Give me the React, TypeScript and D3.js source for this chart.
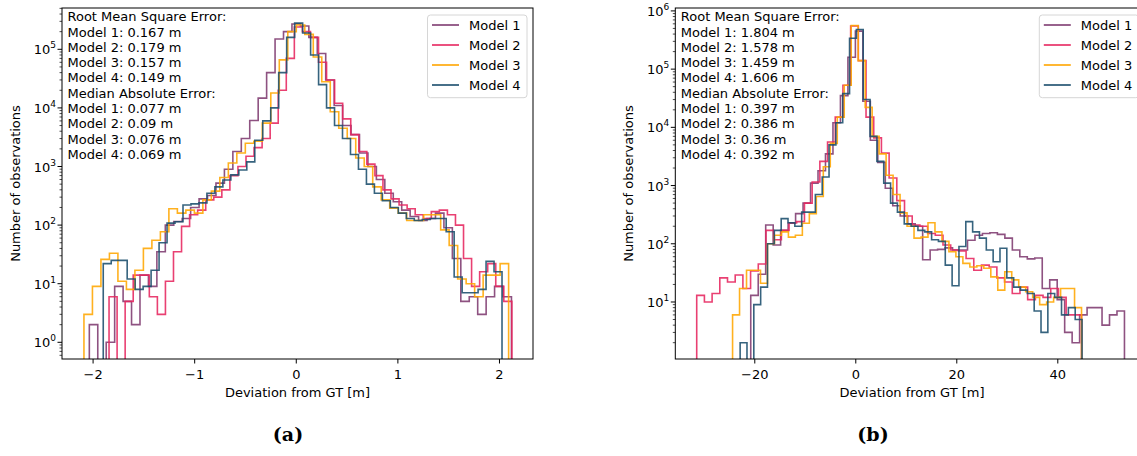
import React from "react";
import * as d3 from "d3";

// ---------- data ----------
const MODELS = ["Model 1", "Model 2", "Model 3", "Model 4"];
const COLORS = ["#7e3a70", "#e6255f", "#ffa600", "#1a4d6c"];

// Panel (a): per-model bin start, bin width and counts (50 bins each)
const A_START = [-2.037, -1.843, -2.09, -1.9];
const A_WIDTH = [0.0831, 0.0793, 0.0836, 0.0785];
const A_M1 = [2, 0, 1, 9, 5, 2, 14, 9, 35, 100, 115, 130, 200, 280, 320, 520, 900, 1800, 3000, 6100, 14700, 40000, 150000, 200000, 270000, 250000, 160000, 85000, 30000, 11000, 5000, 3500, 1700, 1000, 600, 350, 250, 180, 140, 120, 130, 160, 90, 27, 5, 6, 3, 6, 9, 6];
const A_M2 = [6, 0, 5, 14, 14, 6, 3, 11, 35, 95, 150, 180, 270, 300, 400, 700, 1000, 1500, 2100, 3000, 5500, 20000, 70000, 240000, 200000, 160000, 60000, 30000, 12000, 6500, 3500, 1800, 1100, 700, 400, 280, 220, 190, 150, 130, 170, 180, 150, 100, 27, 9, 16, 22, 9, 5];
const A_M3 = [3, 9, 26, 33, 11, 8, 17, 40, 55, 77, 190, 160, 180, 160, 270, 380, 650, 1150, 1700, 2500, 2700, 5500, 18000, 66000, 200000, 260000, 180000, 74000, 28000, 8600, 4500, 3000, 1400, 1000, 450, 270, 195, 160, 120, 120, 150, 150, 83, 45, 12, 10, 6, 14, 14, 22];
const A_M4 = [22, 25, 25, 12, 8, 9, 17, 50, 108, 114, 220, 230, 240, 350, 450, 590, 720, 870, 1200, 2800, 6000, 10000, 40000, 160000, 280000, 190000, 80000, 25000, 10000, 5000, 3000, 1600, 900, 500, 350, 260, 200, 160, 130, 120, 125, 130, 130, 77, 13, 7, 7, 8, 24, 16];

// Panel (b)
const B_START = [-20.8, -31.5, -24.4, -22.9];
const B_WIDTH = [1.48, 1.524, 1.382, 1.354];
const B_M1 = [13, 30, 210, 95, 170, 225, 330, 500, 1100, 1800, 3500, 12000, 35000, 160000, 450000, 28000, 6000, 2500, 900, 450, 300, 220, 200, 53, 78, 80, 85, 78, 78, 115, 140, 150, 155, 145, 125, 78, 60, 55, 57, 17, 24, 11, 3, 2, 6, 8, 8, 4, 6, 7];
const B_M2 = [13, 10, 14, 26, 22, 29, 17, 34, 45, 170, 117, 170, 230, 240, 500, 1150, 2600, 5600, 15000, 53000, 550000, 140000, 15000, 6600, 3600, 1350, 550, 300, 210, 200, 150, 140, 95, 78, 75, 56, 35, 43, 40, 26, 22, 14, 18, 11, 13, 12, 17, 12, 6, 6];
const B_M3 = [6, 17, 35, 35, 21, 100, 140, 160, 130, 140, 225, 330, 650, 2100, 5300, 15000, 53000, 560000, 140000, 22000, 7000, 3500, 1500, 700, 340, 200, 125, 130, 230, 160, 110, 73, 60, 46, 40, 42, 38, 27, 16, 33, 24, 18, 15, 12, 9, 10, 12, 17, 17, 8];
const B_M4 = [2, 0, 9, 18, 100, 170, 270, 230, 200, 350, 350, 700, 1400, 5000, 12000, 38000, 340000, 480000, 30000, 7000, 2600, 1100, 500, 350, 220, 200, 170, 160, 117, 110, 43, 19, 90, 240, 160, 125, 78, 49, 84, 26, 18, 16, 14, 7, 3, 14, 12, 6, 8, 5];

const A_RMSE = [0.167, 0.179, 0.157, 0.149];
const A_MAE = [0.077, 0.09, 0.076, 0.069];
const B_RMSE = [1.804, 1.578, 1.459, 1.606];
const B_MAE = [0.397, 0.386, 0.36, 0.392];

const A_XTICKS = [-2, -1, 0, 1, 2];
const B_XTICKS = [-20, 0, 20, 40];

const FONT = "DejaVu Sans";
const FS = 13;

type Series = { start: number; width: number; counts: number[] };

type PanelProps = {
  id: string;
  left: number;
  right: number;
  top: number;
  bottom: number;
  xDomain: [number, number];
  yLogDomain: [number, number];
  xTicks: number[];
  series: Series[];
  rmse: number[];
  mae: number[];
  yLabelX: number;
  legendX: number;
  caption: string;
  captionX: number;
};

const fmt = (v: number) => (v < 0 ? "\u2212" + Math.abs(v) : String(v));

function Panel(p: PanelProps) {
  const x = d3.scaleLinear().domain(p.xDomain).range([p.left, p.right]);
  const y = d3
    .scaleLog()
    .domain([Math.pow(10, p.yLogDomain[0]), Math.pow(10, p.yLogDomain[1])])
    .range([p.bottom, p.top]);
  const below = p.bottom + 20;
  const yv = (c: number) => (c > 0 ? y(c) : below);

  const line = d3
    .line<[number, number]>()
    .x((d) => d[0])
    .y((d) => d[1]);

  // step outline of each histogram
  const paths = p.series.map((s) => {
    const pts: [number, number][] = [];
    const n = s.counts.length;
    pts.push([x(s.start), below]);
    for (let i = 0; i < n; i++) {
      const e0 = x(s.start + i * s.width);
      const e1 = x(s.start + (i + 1) * s.width);
      pts.push([e0, yv(s.counts[i])]);
      pts.push([e1, yv(s.counts[i])]);
    }
    pts.push([x(s.start + n * s.width), below]);
    return line(pts) as string;
  });

  const majors: number[] = [];
  const minors: number[] = [];
  for (let d = Math.floor(p.yLogDomain[0]); d <= Math.ceil(p.yLogDomain[1]); d++) {
    if (d >= p.yLogDomain[0] && d <= p.yLogDomain[1]) majors.push(d);
    for (let m = 2; m <= 9; m++) {
      const lv = d + Math.log10(m);
      if (lv >= p.yLogDomain[0] && lv <= p.yLogDomain[1]) minors.push(Math.pow(10, lv));
    }
  }

  const statLines = [
    "Root Mean Square Error:",
    ...p.rmse.map((v, i) => `Model ${i + 1}: ${v} m`),
    "Median Absolute Error:",
    ...p.mae.map((v, i) => `Model ${i + 1}: ${v} m`),
  ];

  const midY = (p.top + p.bottom) / 2;
  const midX = (p.left + p.right) / 2;

  return (
    <g>
      <defs>
        <clipPath id={`clip-${p.id}`}>
          <rect x={p.left} y={p.top} width={p.right - p.left} height={p.bottom - p.top} />
        </clipPath>
      </defs>
      <rect x={p.left} y={p.top} width={p.right - p.left} height={p.bottom - p.top} fill="#fff" />
      <g clipPath={`url(#clip-${p.id})`}>
        {paths.map((d, i) => (
          <path key={i} d={d} fill="none" stroke={COLORS[i]} strokeWidth={1.6} strokeOpacity={0.88} strokeLinejoin="miter" />
        ))}
      </g>
      {/* spines */}
      <rect x={p.left} y={p.top} width={p.right - p.left} height={p.bottom - p.top} fill="none" stroke="#000" strokeWidth={1} />
      {/* x ticks */}
      {p.xTicks.map((t) => (
        <g key={t}>
          <line x1={x(t)} x2={x(t)} y1={p.bottom} y2={p.bottom + 4.5} stroke="#000" strokeWidth={1} />
          <text x={x(t)} y={p.bottom + 20} fontSize={FS} fontFamily={FONT} textAnchor="middle" fill="#000">
            {fmt(t)}
          </text>
        </g>
      ))}
      {/* y ticks */}
      {minors.map((v, i) => (
        <line key={i} x1={p.left - 2.5} x2={p.left} y1={y(v)} y2={y(v)} stroke="#000" strokeWidth={0.7} />
      ))}
      {majors.map((d) => (
        <g key={d}>
          <line x1={p.left - 4.5} x2={p.left} y1={y(Math.pow(10, d))} y2={y(Math.pow(10, d))} stroke="#000" strokeWidth={1} />
          <text x={p.left - 6} y={y(Math.pow(10, d)) + 5} fontSize={FS} fontFamily={FONT} textAnchor="end" fill="#000">
            10
            <tspan fontSize={9} dy={-6}>
              {d}
            </tspan>
          </text>
        </g>
      ))}
      {/* axis labels */}
      <text x={midX} y={p.bottom + 37.5} fontSize={FS} fontFamily={FONT} textAnchor="middle" fill="#000">
        Deviation from GT [m]
      </text>
      <text
        transform={`translate(${p.yLabelX},${midY}) rotate(-90)`}
        fontSize={FS}
        fontFamily={FONT}
        textAnchor="middle"
        dominantBaseline="central"
        fill="#000"
      >
        Number of observations
      </text>
      {/* statistics text */}
      <text fontSize={FS} fontFamily={FONT} fill="#000">
        {statLines.map((s, i) => (
          <tspan key={i} x={p.left + 5.5} y={p.top + 13.2 + i * 15.3}>
            {s}
          </tspan>
        ))}
      </text>
      {/* legend */}
      <g>
        <rect x={p.legendX} y={p.top + 7} width={99.5} height={82.7} rx={3} fill="#fff" fillOpacity={0.85} stroke="#d6d6d6" strokeWidth={1} />
        {MODELS.map((m, i) => (
          <g key={m}>
            <line
              x1={p.legendX + 4.5}
              x2={p.legendX + 31.5}
              y1={p.top + 17 + i * 20}
              y2={p.top + 17 + i * 20}
              stroke={COLORS[i]}
              strokeWidth={1.6}
            />
            <text x={p.legendX + 41.5} y={p.top + 21.6 + i * 20} fontSize={FS} fontFamily={FONT} fill="#000">
              {m}
            </text>
          </g>
        ))}
      </g>
      {/* caption */}
      <text x={p.captionX} y={441} fontSize={19} fontWeight="bold" fontFamily="DejaVu Serif" textAnchor="middle" fill="#000">
        {p.caption}
      </text>
    </g>
  );
}

export default function App() {
  const aSeries: Series[] = [A_M1, A_M2, A_M3, A_M4].map((c, i) => ({ start: A_START[i], width: A_WIDTH[i], counts: c }));
  const bSeries: Series[] = [B_M1, B_M2, B_M3, B_M4].map((c, i) => ({ start: B_START[i], width: B_WIDTH[i], counts: c }));
  return (
    <svg
      width={1137}
      height={456}
      viewBox="0 0 1137 456"
      style={{ position: "absolute", left: 0, top: 0, background: "#fff" }}
    >
      <rect width={1137} height={456} fill="#fff" />
      <Panel
        id="a"
        left={62}
        right={533}
        top={8}
        bottom={359}
        xDomain={[-2.306, 2.33]}
        yLogDomain={[-0.285, 5.705]}
        xTicks={A_XTICKS}
        series={aSeries}
        rmse={A_RMSE}
        mae={A_MAE}
        yLabelX={15}
        legendX={427.5}
        caption="(a)"
        captionX={288}
      />
      <Panel
        id="b"
        left={675.3}
        right={1148.7}
        top={8}
        bottom={359}
        xDomain={[-35.74, 58.0]}
        yLogDomain={[0.0206, 6.05]}
        xTicks={B_XTICKS}
        series={bSeries}
        rmse={B_RMSE}
        mae={B_MAE}
        yLabelX={628}
        legendX={1039.3}
        caption="(b)"
        captionX={873}
      />
    </svg>
  );
}
